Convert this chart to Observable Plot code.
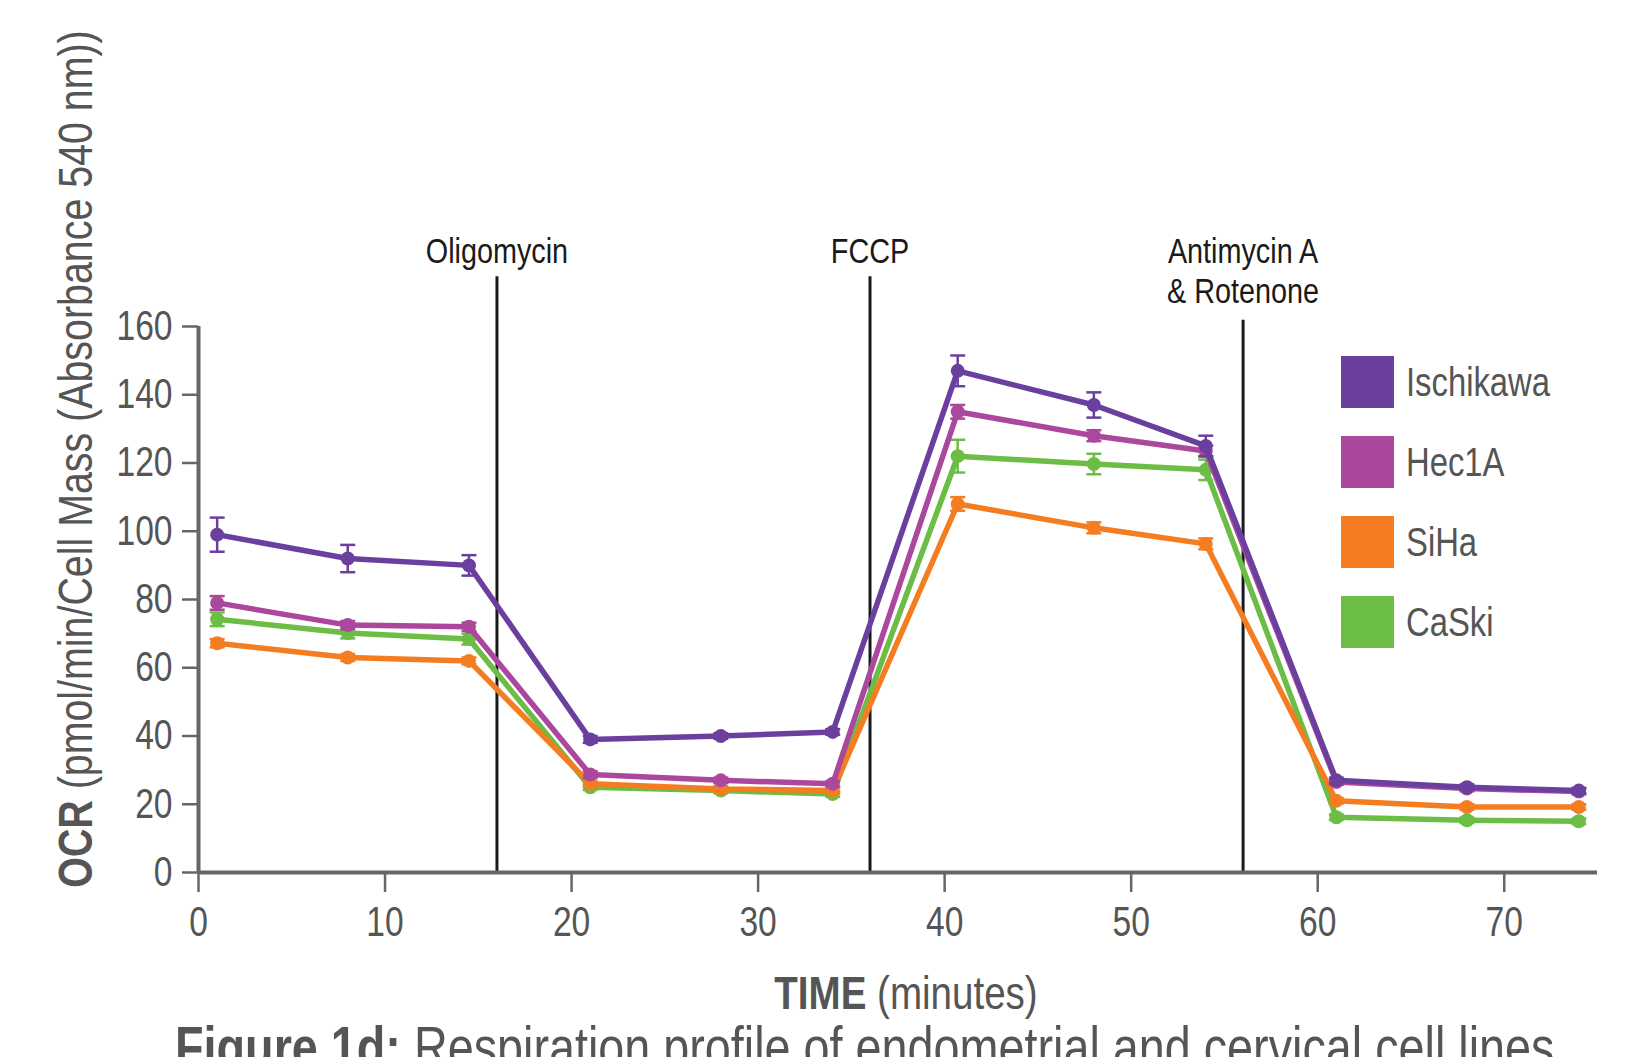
<!DOCTYPE html>
<html>
<head>
<meta charset="utf-8">
<script src="https://cdn.jsdelivr.net/npm/d3@7"></script>
<script src="https://cdn.jsdelivr.net/npm/@observablehq/plot@0.6"></script>
<style>
  html, body { margin: 0; padding: 0; background: #fff; }
  #wrap { position: relative; width: 1633px; height: 1057px; overflow: hidden;
    font-family: "Liberation Sans", Arial, sans-serif; color: #555; }
  #chart { position: absolute; left: 0; top: 0; }
  .ylab { position: absolute; left: 76px; top: 459px; transform: translate(-50%, -50%) rotate(-90deg) scaleX(0.82);
    white-space: nowrap; font-size: 48px; color: #555; line-height: 1; }
  .xlab { position: absolute; left: 906px; top: 992px; transform: translate(-50%, -50%) scaleX(0.82);
    white-space: nowrap; font-size: 47px; color: #555; line-height: 1; }
  .caption { position: absolute; left: 175px; top: 1019px; transform: scaleX(0.82); transform-origin: 0 50%;
    white-space: nowrap; font-size: 57px; color: #555; line-height: 1; }
  .legend { position: absolute; left: 1341px; top: 356px; }
  .item { position: absolute; left: 0; width: 400px; height: 52px; }
  .sw { position: absolute; left: 0; top: 0; width: 53px; height: 52px; }
  .lt { position: absolute; left: 65px; top: 26px; transform: translateY(-50%) scaleX(0.82); transform-origin: 0 50%;
    font-size: 40px; color: #555; line-height: 1; white-space: nowrap; }
</style>
</head>
<body>
<div id="wrap">
  <div id="chart"></div>
  <div class="ylab"><b>OCR</b> (pmol/min/Cell Mass (Absorbance 540 nm))</div>
  <div class="xlab"><b>TIME</b> (minutes)</div>
  <div class="caption"><b>Figure 1d:</b> Respiration profile of endometrial and cervical cell lines</div>
  <div class="legend" id="legend"></div>
</div>
<script>
// ---- data ----
const times = [1, 8, 14.5, 21, 28, 34, 40.7, 48, 54, 61, 68, 74];
const seriesNames = ["Ischikawa", "Hec1A", "SiHa", "CaSki"];
const seriesColors = ["#6b3f9e", "#ab479d", "#f47d22", "#6cbd45"];
const ischikawa    = [99, 92, 90, 39, 40, 41.2, 147, 137, 125, 27, 25, 24];
const ischikawaErr = [5, 4, 3, 1, 0.8, 0.8, 4.5, 3.7, 3, 0.8, 0.8, 0.8];
const hec1a        = [79, 72.5, 72, 28.7, 27, 26, 135, 128, 123.5, 26.5, 24.6, 23.7];
const hec1aErr     = [2, 1.2, 1.2, 1, 0.8, 0.8, 2, 1.6, 1.6, 0.8, 0.8, 0.8];
const siha         = [67.2, 63, 62, 26, 24.5, 24, 108, 101, 96.3, 21, 19.2, 19.2];
const sihaErr      = [1.2, 1, 1, 0.8, 0.8, 0.8, 2, 1.6, 1.6, 0.8, 0.8, 0.8];
const caski        = [74.2, 70.2, 68.4, 25, 24, 23, 122, 119.7, 118, 16.2, 15.3, 15];
const caskiErr     = [2, 1.6, 1.6, 0.8, 0.8, 0.8, 4.8, 3, 3, 0.8, 0.8, 0.8];
const xTicks = [0, 10, 20, 30, 40, 50, 60, 70];
const yTicks = [0, 20, 40, 60, 80, 100, 120, 140, 160];
const eventTimes = [16, 36, 56];
const eventTops = [174.6, 174.6, 161.8];
const eventLabels = ["Oligomycin", "FCCP", "Antimycin A", "& Rotenone"];
const eventLabelTimes = [16, 36, 56, 56];
const eventLabelYs = [182, 182, 182, 170.3];

// ---- build tables ----
const values = {Ischikawa: ischikawa, Hec1A: hec1a, SiHa: siha, CaSki: caski};
const errs = {Ischikawa: ischikawaErr, Hec1A: hec1aErr, SiHa: sihaErr, CaSki: caskiErr};
const drawOrder = ["CaSki", "SiHa", "Hec1A", "Ischikawa"];
const rowsFor = s => times.map((t, i) => ({series: s, t, v: values[s][i], e: errs[s][i]}));
const events = eventTimes.map((t, i) => ({t, top: eventTops[i]}));
const labels = eventLabels.map((text, i) => ({text, t: eventLabelTimes[i], y: eventLabelYs[i]}));

const cap = {draw(ctx, size) { const w = Math.sqrt(size / Math.PI); ctx.moveTo(-w, 0); ctx.lineTo(w, 0); }};

const marks = [
  Plot.ruleX(events, {x: "t", y1: 0, y2: "top", stroke: "#1a1a1a", strokeWidth: 3}),
  Plot.text(labels, {x: "t", y: "y", text: "text", fontSize: 36, fill: "#1a1a1a"}),
];
for (const s of drawOrder) {
  const rows = rowsFor(s);
  marks.push(
    Plot.line(rows, {x: "t", y: "v", stroke: "series", strokeWidth: 5.5, strokeLinejoin: "round"}),
    Plot.ruleX(rows, {x: "t", y1: d => d.v - d.e, y2: d => d.v + d.e, stroke: "series", strokeWidth: 2.5}),
    Plot.dot(rows, {x: "t", y: d => d.v + d.e, symbol: cap, r: 7.5, stroke: "series", strokeWidth: 2.5}),
    Plot.dot(rows, {x: "t", y: d => d.v - d.e, symbol: cap, r: 7.5, stroke: "series", strokeWidth: 2.5}),
    Plot.dot(rows, {x: "t", y: "v", r: 7, fill: "series", stroke: "none"})
  );
}
marks.push(
  Plot.axisY({ticks: yTicks, tickSize: 16, tickPadding: 10, fontSize: 42, stroke: "#666", fill: "#555", strokeWidth: 2.5, label: null, tickFormat: d => String(d)}),
  Plot.axisX({ticks: xTicks, tickSize: 20, tickPadding: 14, fontSize: 42, stroke: "#666", fill: "#555", strokeWidth: 2.5, label: null, tickFormat: d => String(d)}),
  Plot.ruleX([0], {y1: 0, y2: 160, stroke: "#666", strokeWidth: 4}),
  Plot.ruleY([0], {x1: 0, x2: 75, stroke: "#666", strokeWidth: 4})
);

const chart = Plot.plot({
  width: 1633,
  height: 1057,
  marginLeft: 198,
  marginRight: 36,
  marginTop: 326,
  marginBottom: 185,
  x: {domain: [0, 75]},
  y: {domain: [0, 160]},
  color: {domain: seriesNames, range: seriesColors},
  style: {fontFamily: '"Liberation Sans", Arial, sans-serif', background: "transparent", overflow: "visible"},
  marks
});
// condense all SVG texts horizontally (narrow typeface look)
d3.select(chart).selectAll("text").each(function() {
  const t = this.getAttribute("transform") || "";
  this.setAttribute("transform", (t + " scale(0.8,1)").trim());
});
document.getElementById("chart").appendChild(chart);

// legend
const leg = document.getElementById("legend");
seriesNames.forEach((name, i) => {
  const item = document.createElement("div");
  item.className = "item";
  item.style.top = (i * 80) + "px";
  item.innerHTML = `<div class="sw" style="background:${seriesColors[i]}"></div><div class="lt">${name}</div>`;
  leg.appendChild(item);
});
</script>
</body>
</html>
